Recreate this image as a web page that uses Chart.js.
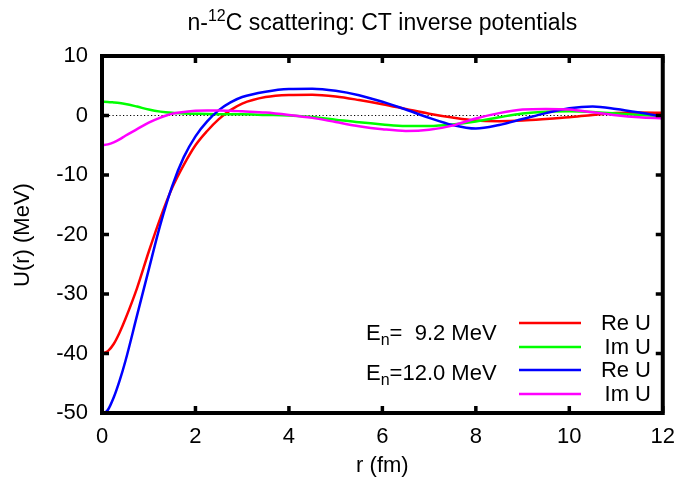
<!DOCTYPE html>
<html><head><meta charset="utf-8">
<script src="https://cdn.jsdelivr.net/npm/chart.js@4.4.1/dist/chart.umd.min.js"></script>
<style>html,body{margin:0;padding:0;background:#fff;}canvas{display:block;}</style>
</head><body>
<canvas id="c" width="686" height="485"></canvas>
<script>
const r = [0,0.125,0.25,0.375,0.5,0.75,1,1.25,1.5,1.75,2,2.25,2.5,2.75,3,3.5,4,4.5,5,5.5,6,6.5,7,7.5,8,8.5,9,9.5,10,10.5,11,11.5,12];
const reU92 = [-40,-39.6,-38.4,-36.5,-34.2,-29.0,-22.9,-17.2,-12.2,-8.3,-5.0,-2.6,-0.6,0.9,2.0,3.1,3.45,3.5,3.2,2.6,1.9,1.1,0.3,-0.35,-0.85,-0.95,-0.85,-0.6,-0.3,0.1,0.4,0.5,0.45];
const imU92 = [2.3,2.28,2.2,2.1,1.95,1.5,1.0,0.65,0.45,0.35,0.3,0.25,0.22,0.2,0.2,0.1,0.0,-0.25,-0.7,-1.15,-1.5,-1.75,-1.75,-1.5,-1.0,-0.3,0.35,0.65,0.7,0.6,0.35,0.1,-0.1];
const reU12 = [-50.3,-49.5,-47.4,-44.6,-41.3,-33.6,-25.9,-18.3,-11.9,-7.0,-3.5,-1.0,0.9,2.2,3.1,4.0,4.45,4.5,4.15,3.4,2.3,1.0,-0.4,-1.6,-2.2,-1.6,-0.6,0.4,1.2,1.5,1.1,0.5,-0.2];
const imU12 = [-5.0,-4.85,-4.5,-4.0,-3.4,-2.3,-1.2,-0.35,0.3,0.6,0.8,0.85,0.85,0.8,0.7,0.5,0.1,-0.4,-1.1,-1.8,-2.3,-2.6,-2.4,-1.7,-0.5,0.4,1.0,1.1,1.0,0.55,0.05,-0.3,-0.5];
const xTicks = [0,2,4,6,8,10,12];
const yTicks = [-50,-40,-30,-20,-10,0,10];
const seriesLabels = ['Re U','Im U','Re U','Im U'];
const energyLabels = ['9.2 MeV','12.0 MeV'];
const colors = ['#ff0000','#00ff00','#0000ff','#ff00ff'];

const FONT = "'Liberation Sans', Arial, sans-serif";
const FS = 22;
const pts = ys => r.map((x,i)=>({x:x,y:ys[i]}));

const deco = {
  id:'deco',
  afterDraw(chart){
    const ctx = chart.ctx, a = chart.chartArea;
    const xs = chart.scales.x, ys = chart.scales.y;
    ctx.save();
    ctx.strokeStyle='#000'; ctx.lineWidth=4;
    ctx.strokeRect(a.left, a.top, a.right-a.left, a.bottom-a.top);
    ctx.lineWidth=3.5;
    const tl=7;
    ctx.beginPath();
    xTicks.forEach(v=>{const p=xs.getPixelForValue(v);
      ctx.moveTo(p,a.bottom); ctx.lineTo(p,a.bottom-tl);
      ctx.moveTo(p,a.top); ctx.lineTo(p,a.top+tl);});
    yTicks.forEach(v=>{const p=ys.getPixelForValue(v);
      ctx.moveTo(a.left,p); ctx.lineTo(a.left+tl,p);
      ctx.moveTo(a.right,p); ctx.lineTo(a.right-tl,p);});
    ctx.stroke();
    // title
    ctx.fillStyle='#000';
    ctx.textBaseline='alphabetic';
    const tbig = '23px '+FONT, tsmall='16px '+FONT;
    const big = FS+'px '+FONT, small=Math.round(FS*0.72)+'px '+FONT;
    ctx.font=tbig; const w1=ctx.measureText('n-').width;
    const w3=ctx.measureText('C scattering: CT inverse potentials').width;
    ctx.font=tsmall; const w2=ctx.measureText('12').width;
    let tx = (a.left+a.right)/2 - (w1+w2+w3)/2, ty=30;
    ctx.font=tbig; ctx.textAlign='left'; ctx.fillText('n-',tx,ty); tx+=w1;
    ctx.font=tsmall; ctx.fillText('12',tx,ty-9); tx+=w2;
    ctx.font=tbig; ctx.fillText('C scattering: CT inverse potentials',tx,ty);
    // axis titles
    ctx.font=big; ctx.textAlign='center'; ctx.textBaseline='middle';
    ctx.fillText('r (fm)',(a.left+a.right)/2,466);
    ctx.save(); ctx.translate(23,235); ctx.rotate(-Math.PI/2);
    ctx.fillText('U(r) (MeV)',0,0); ctx.restore();
    // legend
    const ly=[323,347,370,394];
    ctx.lineWidth=2.5;
    for(let i=0;i<4;i++){
      ctx.strokeStyle=colors[i];
      ctx.beginPath(); ctx.moveTo(519,ly[i]); ctx.lineTo(581,ly[i]); ctx.stroke();
      ctx.textAlign='right'; ctx.textBaseline='middle'; ctx.font=big;
      ctx.fillText(seriesLabels[i],651,ly[i]+1);
    }
    const ey=[334,374];
    for(let k=0;k<2;k++){
      let ex=366;
      ctx.textAlign='left'; ctx.textBaseline='middle';
      ctx.font=big; ctx.fillText('E',ex,ey[k]); ex+=ctx.measureText('E').width;
      ctx.font=small; ctx.fillText('n',ex,ey[k]+7); ex+=ctx.measureText('n').width;
      ctx.font=big; const s = k===0 ? '=  '+energyLabels[0] : '='+energyLabels[1];
      ctx.fillText(s,ex,ey[k]);
    }
    ctx.restore();
  }
};

const ds = (label, ys, color, order) => ({label:label, data:pts(ys), borderColor:color, borderWidth:2.5,
  pointRadius:0, fill:false, cubicInterpolationMode:'monotone', order:order});

new Chart(document.getElementById('c'), {
  type:'line',
  data:{datasets:[
    {label:'zero', data:[{x:0,y:0},{x:12,y:0}], borderColor:'#000', borderWidth:1, borderDash:[1.2,2.3], pointRadius:0, order:5},
    ds('Re U 9.2', reU92, colors[0], 4),
    ds('Im U 9.2', imU92, colors[1], 3),
    ds('Re U 12.0', reU12, colors[2], 2),
    ds('Im U 12.0', imU12, colors[3], 1)
  ]},
  options:{
    responsive:false, animation:false, devicePixelRatio:1,
    layout:{padding:{left:0,right:20,top:56,bottom:0}},
    plugins:{legend:{display:false}, tooltip:{enabled:false}, title:{display:false}},
    scales:{
      x:{type:'linear', min:0, max:12,
        afterFit(s){s.height=72;},
        afterBuildTicks(s){s.ticks=xTicks.map(v=>({value:v}));},
        grid:{display:false, drawTicks:false}, border:{display:false},
        ticks:{font:{family:FONT,size:FS}, color:'#000', padding:11, maxRotation:0, autoSkip:false}},
      y:{type:'linear', min:-50, max:10,
        afterFit(s){s.width=102;},
        afterBuildTicks(s){s.ticks=yTicks.map(v=>({value:v}));},
        grid:{display:false, drawTicks:false}, border:{display:false},
        ticks:{font:{family:FONT,size:FS}, color:'#000', padding:14, autoSkip:false}}
    }
  },
  plugins:[deco]
});
</script>
</body></html>
